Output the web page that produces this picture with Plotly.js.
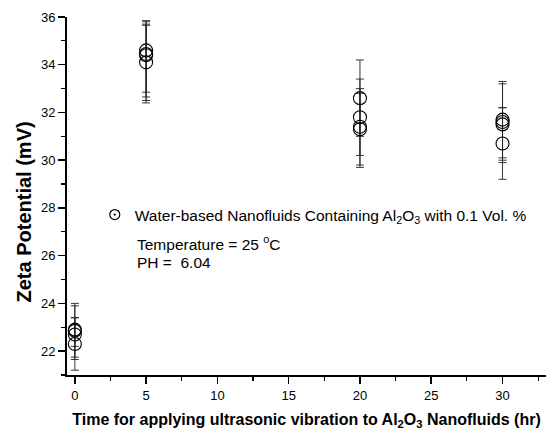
<!DOCTYPE html>
<html>
<head>
<meta charset="utf-8">
<script src="https://cdn.plot.ly/plotly-3.0.1.min.js"></script>
<style>html,body{margin:0;padding:0;background:#fff;}#chart{width:555px;height:430px;}</style>
</head>
<body>
<div id="chart"></div>
<script>
// Data
const hours = [0, 0, 0, 0, 5, 5, 5, 5, 20, 20, 20, 20, 30, 30, 30, 30];
const zeta = [22.9, 22.85, 22.7, 22.3, 34.6, 34.45, 34.4, 34.1, 32.6, 31.8, 31.4, 31.3, 31.7, 31.6, 31.5, 30.7];
const errPlus = [1.1, 1.05, 0.7, 1.1, 1.25, 1.2, 1.4, 1.6, 1.6, 1.6, 1.6, 1.5, 1.6, 1.6, 0.7, 1.5];
const errMinus = [1.15, 1.2, 0.5, 1.1, 1.75, 1.8, 1.9, 1.7, 1.6, 1.6, 1.6, 1.6, 1.6, 1.7, 1.5, 1.5];
const xTicks = [0, 5, 10, 15, 20, 25, 30];
const yTicks = [22, 24, 26, 28, 30, 32, 34, 36];
const seriesName = 'Water-based Nanofluids Containing Al<sub>2</sub>O<sub>3</sub> with 0.1 Vol. %';
const noteTemp = 'Temperature = 25 <sup>o</sup>C';
const notePH = 'PH =  6.04';
const xTitle = 'Time for applying ultrasonic vibration to Al<sub>2</sub>O<sub>3</sub> Nanofluids (hr)';
const yTitle = 'Zeta Potential (mV)';

const FONT = 'Arial, "Liberation Sans", sans-serif';

const traces = [
  {
    type: 'scatter', mode: 'markers',
    x: hours, y: zeta,
    showlegend: false,
    marker: {symbol: 'circle-open', size: 13, color: '#000', line: {width: 1.1, color: '#000'}},
    error_y: {type: 'data', symmetric: false, array: errPlus, arrayminus: errMinus,
              color: '#222', thickness: 0.9, width: 4}
  },
  {
    type: 'scatter', mode: 'markers',
    x: [null], y: [null],
    name: seriesName,
    showlegend: true,
    marker: {symbol: 'circle-open-dot', size: 10, color: '#000', line: {width: 1.2, color: '#000'}}
  }
];

const layout = {
  width: 555, height: 430,
  margin: {l: 67, r: 9, t: 17, b: 55},
  paper_bgcolor: '#fff', plot_bgcolor: '#fff',
  font: {family: FONT, size: 13, color: '#000'},
  showlegend: true,
  legend: {x: 0.058, y: 0.447, xanchor: 'left', yanchor: 'middle',
           bgcolor: 'rgba(0,0,0,0)', font: {family: FONT, size: 15.5, color: '#000'}},
  xaxis: {
    range: [-0.55, 33.05], tickvals: xTicks, ticktext: xTicks.map(String),
    showgrid: false, zeroline: false, showline: true, linewidth: 2, linecolor: '#000',
    ticks: 'outside', ticklen: 7, tickwidth: 1.5, tickcolor: '#000',
    minor: {dtick: 2.5, tick0: 0, ticks: 'outside', ticklen: 4, tickwidth: 1.2, tickcolor: '#000', showgrid: false},
    tickfont: {family: FONT, size: 13},
    title: {text: xTitle, font: {family: FONT, size: 16, weight: 'bold'}, standoff: 14}
  },
  yaxis: {
    range: [21, 36], tickvals: yTicks, ticktext: yTicks.map(String),
    showgrid: false, zeroline: false, showline: true, linewidth: 2, linecolor: '#000',
    ticks: 'outside', ticklen: 7, tickwidth: 1.5, tickcolor: '#000',
    minor: {dtick: 1, tick0: 0, ticks: 'outside', ticklen: 4, tickwidth: 1.2, tickcolor: '#000', showgrid: false},
    tickfont: {family: FONT, size: 13}
  },
  annotations: [
    {xref: 'paper', yref: 'paper', x: -0.089, y: 0.455, xanchor: 'center', yanchor: 'middle',
     textangle: -90, text: '<b>' + yTitle + '</b>', showarrow: false,
     font: {family: FONT, size: 20, color: '#000'}},
    {xref: 'paper', yref: 'paper', x: 0.142, y: 0.368, xanchor: 'left', yanchor: 'middle',
     text: noteTemp, showarrow: false, font: {family: FONT, size: 15.5, color: '#000'}},
    {xref: 'paper', yref: 'paper', x: 0.142, y: 0.315, xanchor: 'left', yanchor: 'middle',
     text: notePH, showarrow: false, font: {family: FONT, size: 15.5, color: '#000'}}
  ]
};

Plotly.newPlot('chart', traces, layout, {displayModeBar: false, staticPlot: true});
</script>
</body>
</html>
